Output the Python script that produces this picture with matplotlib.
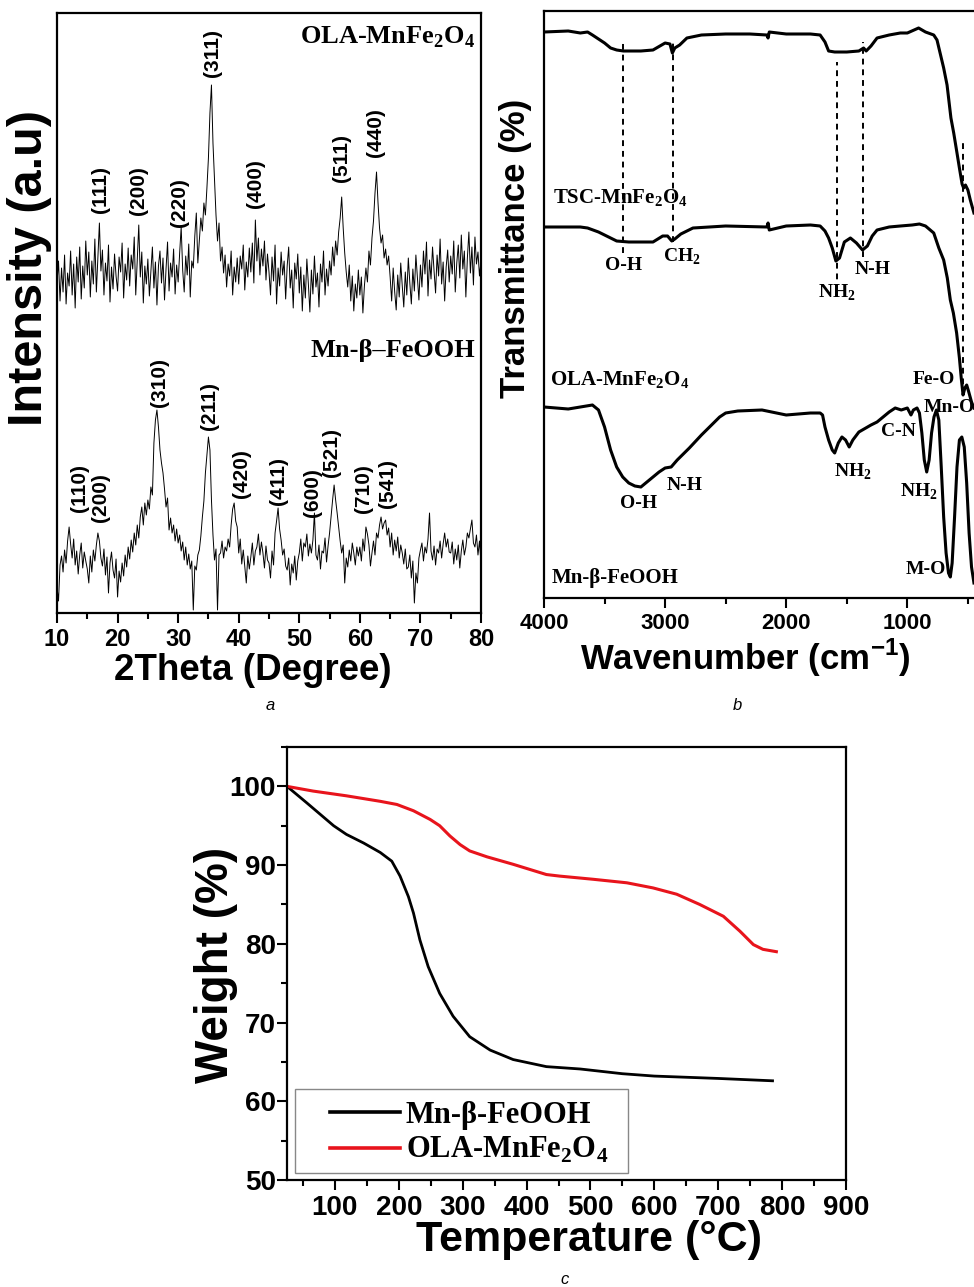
import numpy as np
import matplotlib
matplotlib.use("Agg")
import matplotlib.pyplot as plt
from matplotlib.ticker import MultipleLocator
from matplotlib.patches import Rectangle

plt.rcParams['font.family'] = ['Liberation Sans', 'DejaVu Sans']
plt.rcParams['mathtext.fontset'] = 'custom'
plt.rcParams['mathtext.rm'] = 'Liberation Serif:bold'
plt.rcParams['mathtext.bf'] = 'Liberation Serif:bold'
plt.rcParams['mathtext.sf'] = 'Liberation Sans:bold'

# ---------------- data ----------------
# XRD, 2theta 10..80 step 0.25 (a.u.)
xrd_ola = [
    330, 352, 312, 345, 321, 358, 309, 340, 327, 362, 318, 349, 305, 356, 331, 366, 314, 347, 325, 372,
    338, 361, 316, 352, 329, 374, 321, 355, 390, 342, 363, 318, 350, 332, 368, 311, 346, 324, 359, 337,
    322, 356, 341, 370, 315, 349, 333, 365, 327, 358, 344, 376, 318, 352, 388, 336, 361, 310, 347, 329,
    354, 317, 342, 366, 325, 351, 308, 347, 362, 330, 355, 313, 344, 371, 322, 350, 336, 364, 319, 348,
    331, 360, 386, 343, 321, 357, 338, 369, 316, 352, 345, 377, 400, 350, 372, 395, 382, 410, 398, 425,
    455, 500, 528, 470, 433, 398, 372, 390, 352, 366, 340, 358, 326, 349, 337, 362, 318, 346, 331, 355,
    329, 357, 344, 368, 323, 351, 336, 365, 341, 370, 330, 393, 352, 375, 338, 364, 347, 372, 333, 359,
    341, 318, 356, 332, 368, 309, 345, 327, 361, 338, 352, 314, 347, 366, 325, 343, 305, 350, 334, 359,
    320, 346, 302, 338, 315, 354, 329, 301, 343, 319, 357, 326, 340, 306, 349, 331, 362, 318, 344, 327,
    352, 338, 366, 347, 372, 358, 381, 395, 416, 385, 360, 341, 326, 348, 312, 337, 302, 329, 315, 343,
    318, 336, 300, 327, 345, 331, 362, 348, 375, 392, 420, 441, 410, 385, 370, 378, 355, 364, 348, 357,
    336, 312, 345, 321, 303, 338, 316, 350, 327, 306, 341, 318, 355, 330, 309, 344, 322, 358, 335, 313,
    348, 326, 362, 339, 371, 317, 353, 334, 366, 342, 320, 358, 337, 374, 329, 351, 312, 346, 363, 331,
    357, 339, 372, 321, 350, 368, 335, 378, 344, 362, 316, 355, 381, 340, 366, 328, 376, 349, 361, 337,
    352]
xrd_feooh = [
    26, 12, 48, 57, 41, 63, 50, 72, 86, 69, 55, 74, 48, 62, 39, 58, 70, 45, 61, 52,
    44, 30, 57, 41, 63, 52, 68, 80, 72, 55, 47, 64, 38, 56, 20, 50, 61, 43, 35, 54,
    16, 42, 31, 50, 37, 58, 46, 66, 54, 73, 61, 80, 68, 88, 75, 96, 106, 88, 110, 98,
    113, 104, 126, 118, 170, 193, 203, 186, 163, 150, 140, 124, 106, 115, 83, 95, 80, 88, 72, 84,
    70, 78, 62, 71, 53, 66, 48, 59, 44, 52, 3, 47, 43, 58, 63, 77, 96, 112, 140, 158,
    176, 163, 113, 78, 53, 64, 3, 58, 60, 72, 55, 66, 62, 74, 66, 88, 104, 110, 92, 86,
    60, 74, 49, 63, 46, 30, 57, 44, 56, 70, 48, 62, 66, 79, 58, 71, 60, 45, 67, 53,
    50, 35, 62, 48, 80, 92, 105, 84, 73, 58, 64, 47, 43, 55, 28, 49, 40, 57, 33, 52,
    60, 74, 52, 70, 66, 79, 57, 69, 60, 73, 100, 58, 53, 68, 44, 62, 60, 75, 51, 67,
    80, 97, 113, 128, 113, 100, 86, 72, 60, 68, 30, 55, 46, 63, 52, 70, 60, 48, 66, 57,
    66, 52, 74, 62, 86, 79, 68, 47, 60, 72, 58, 80, 75, 88, 96, 84, 90, 93, 78, 85,
    66, 80, 58, 73, 62, 76, 55, 68, 60, 49, 64, 44, 46, 58, 35, 52, 10, 40, 30, 55,
    63, 70, 52, 66, 60, 74, 100, 62, 53, 67, 48, 64, 60, 72, 55, 69, 80, 66, 74, 61,
    60, 71, 49, 64, 53, 68, 45, 62, 73, 58, 66, 80, 75, 84, 93, 70, 66, 78, 58, 72,
    50]
hkl_ola = ['(111)', '(200)', '(220)', '(311)', '(400)', '(511)', '(440)']
hkl_ola_pos = [17.1, 23.4, 30.3, 35.6, 42.7, 57.0, 62.6]
hkl_ola_y = [400, 398, 386, 536, 405, 431, 456]
hkl_feooh = ['(110)', '(200)', '(310)', '(211)', '(420)', '(411)', '(600)', '(521)', '(710)', '(541)']
hkl_feooh_pos = [13.7, 17.1, 27.0, 35.1, 40.5, 46.5, 52.1, 55.4, 60.6, 64.5]
hkl_feooh_y = [101, 91, 206, 183, 115, 108, 96, 136, 100, 105]

# FTIR (offset transmittance, a.u.)
tsc_wn = [4000, 3800, 3700, 3640, 3600, 3500, 3450, 3400, 3344, 3200, 3100, 3000, 2960, 2940,
          2920, 2880, 2820, 2700, 2500, 2300, 2160, 2150, 2140, 2000, 1800, 1720, 1680, 1650,
          1600, 1500, 1400, 1361, 1340, 1300, 1250, 1150, 1058, 1000, 907, 850, 782, 755, 700,
          672, 640, 617, 590, 570, 548, 535, 520, 500, 480, 450]
tsc_t = [566, 567, 565, 566, 563, 555, 550, 548, 547, 547, 548, 555, 554, 545,
         550, 553, 560, 563, 564, 564, 563, 560, 566, 564, 564, 563, 556, 547,
         546, 546, 547, 550, 547, 552, 560, 563, 565, 565, 570, 566, 563, 558, 530,
         513, 480, 465, 445, 430, 414, 410, 413, 408, 398, 385]
ola_wn = [4000, 3700, 3640, 3550, 3450, 3400, 3300, 3100, 3020, 2980, 2945, 2920, 2870, 2770,
          2500, 2160, 2150, 2140, 2000, 1800, 1720, 1680, 1650, 1620, 1590, 1560, 1520, 1470,
          1420, 1370, 1330, 1290, 1250, 1150, 1058, 960, 900, 850, 782, 740, 700, 670, 645,
          620, 593, 570, 555, 540, 525, 510, 495, 470, 450]
ola_t = [371, 371, 370, 366, 360, 357, 356, 356, 362, 362, 357, 359, 364, 370,
         372, 371, 375, 368, 372, 373, 372, 367, 360, 350, 337, 340, 356, 360,
         355, 348, 352, 362, 368, 371, 372, 373, 374, 372, 365, 350, 338, 320, 298,
         285, 265, 240, 220, 203, 210, 213, 207, 196, 190]
feooh_wn = [4000, 3800, 3700, 3600, 3550, 3500, 3450, 3400, 3350, 3300, 3250, 3200, 3150, 3100,
            3050, 3000, 2950, 2900, 2800, 2700, 2600, 2550, 2500, 2450, 2400, 2200, 2000, 1800,
            1720, 1700, 1680, 1650, 1620, 1600, 1570, 1540, 1510, 1480, 1450, 1400, 1300, 1250,
            1200, 1150, 1100, 1050, 1000, 970, 950, 920, 900, 880, 860, 840, 820, 800, 780, 760,
            740, 720, 700, 680, 660, 645, 630, 610, 590, 570, 550, 530, 510, 490, 470, 450]
feooh_t = [191, 189, 191, 193, 188, 171, 148, 131, 121, 115, 112, 111, 116, 121,
           126, 130, 131, 138, 150, 163, 175, 181, 185, 186, 187, 188, 183, 185,
           185, 183, 171, 158, 148, 145, 155, 161, 158, 151, 158, 166, 173, 176,
           181, 186, 190, 188, 190, 183, 188, 190, 185, 165, 138, 126, 138, 165, 181, 188,
           178, 131, 81, 45, 25, 21, 35, 81, 131, 158, 161, 151, 115, 65, 31, 15]
# dashed guide lines: wavenumber, y from, y to
guide_wn = [3344, 2931, 1579, 1364, 540]
guide_lo = [345, 356, 308, 341, 203]
guide_hi = [558, 558, 536, 556, 456]

# TGA
tga_temp_k = [25, 56, 98, 118, 145, 171, 189, 202, 215, 223, 233, 246, 264, 285, 311, 343,
              379, 431, 484, 550, 600, 700, 785]
tga_w_k = [100, 97.9, 95.0, 93.9, 92.8, 91.6, 90.5, 88.6, 86.0, 83.9, 80.5, 77.1, 73.7, 70.8,
           68.2, 66.5, 65.3, 64.4, 64.1, 63.5, 63.2, 62.9, 62.6]
tga_temp_r = [25, 66, 118, 171, 197, 223, 249, 264, 280, 296, 311, 338, 379, 431, 452, 504,
              557, 598, 635, 671, 708, 734, 755, 770, 791]
tga_w_r = [100, 99.4, 98.8, 98.1, 97.7, 96.9, 95.8, 95.0, 93.7, 92.6, 91.8, 91.05, 90.1, 88.8,
           88.6, 88.2, 87.75, 87.1, 86.3, 85.0, 83.5, 81.6, 79.9, 79.3, 79.0]

# ---------------- figure ----------------
W, H = 974, 1287
fig = plt.figure(figsize=(W / 100, H / 100), dpi=100)


def box(l, t, r, b):
    return [l / W, 1 - b / H, (r - l) / W, (b - t) / H]


def fxy(x, y):
    return x / W, 1 - y / H


serif = 'Liberation Serif'

# ---- panel a: XRD ----
ax1 = fig.add_axes(box(57, 13, 481, 613))
tt = np.linspace(10, 80, len(xrd_ola))
ax1.plot(tt, xrd_ola, color='black', lw=0.7)
tt2 = np.linspace(10, 80, len(xrd_feooh))
ax1.plot(tt2, xrd_feooh, color='black', lw=0.7)
ax1.set_xlim(10, 80)
ax1.set_ylim(0, 600)
ax1.set_yticks([])
ax1.xaxis.set_major_locator(MultipleLocator(10))
ax1.xaxis.set_minor_locator(MultipleLocator(5))
ax1.tick_params(axis='x', which='major', direction='out', length=7, width=1.5, pad=4, labelsize=17)
ax1.tick_params(axis='x', which='minor', direction='out', length=4, width=1.5)
for lab in ax1.get_xticklabels():
    lab.set_fontweight('bold')
for s in ax1.spines.values():
    s.set_linewidth(1.6)
for lab, x, y in zip(hkl_ola, hkl_ola_pos, hkl_ola_y):
    ax1.text(x, y, lab, rotation=90, ha='center', va='bottom', fontsize=15, fontweight='bold')
for lab, x, y in zip(hkl_feooh, hkl_feooh_pos, hkl_feooh_y):
    ax1.text(x, y, lab, rotation=90, ha='center', va='bottom', fontsize=15, fontweight='bold')
ax1.text(79, 576, r'OLA-MnFe$_\mathrm{2}$O$_\mathrm{4}$',
         ha='right', va='center', family=serif, fontweight='bold', fontsize=19)
ax1.text(79, 263, 'Mn-β–FeOOH',
         ha='right', va='center', family=serif, fontweight='bold', fontsize=19)
fig.text(*fxy(253, 670), '2Theta (Degree)', ha='center', va='center', fontsize=26.5, fontweight='bold')
fig.text(*fxy(30, 268), 'Intensity (a.u)', ha='center', va='center', rotation=90, fontsize=35, fontweight='bold')
fig.text(*fxy(270, 706), 'a', ha='center', va='center', fontsize=12, style='italic')

# ---- panel b: FTIR ----
ax2 = fig.add_axes(box(544, 11, 980, 598))
ax2.plot(tsc_wn, tsc_t, color='black', lw=2.2)
ax2.plot(ola_wn, ola_t, color='black', lw=2.2)
ax2.plot(feooh_wn, feooh_t, color='black', lw=2.2)
ax2.vlines(guide_wn, guide_lo, guide_hi, colors='black', linestyles=(0, (3, 2.5)), lw=1.4)
ax2.set_xlim(4000, 400)
ax2.set_ylim(0, 587)
ax2.set_yticks([])
ax2.xaxis.set_major_locator(MultipleLocator(1000))
ax2.xaxis.set_minor_locator(MultipleLocator(500))
ax2.tick_params(axis='x', which='major', direction='out', length=7, width=1.5, pad=4, labelsize=16)
ax2.tick_params(axis='x', which='minor', direction='out', length=4, width=1.5)
for lab in ax2.get_xticklabels():
    lab.set_fontweight('bold')
for s in ax2.spines.values():
    s.set_linewidth(1.6)
ftir_labels = [
    (3926, 400, r'TSC-MnFe$_\mathrm{2}$O$_\mathrm{4}$', 'left', 15),
    (3347, 332, 'O-H', 'center', 14),
    (2860, 341, r'CH$_\mathrm{2}$', 'center', 14),
    (1579, 305, r'NH$_\mathrm{2}$', 'center', 14),
    (1289, 328, 'N-H', 'center', 14),
    (3950, 218, r'OLA-MnFe$_\mathrm{2}$O$_\mathrm{4}$', 'left', 15),
    (785, 218, 'Fe-O', 'center', 14),
    (868, 190, 'Mn-O', 'left', 14),
    (1074, 166, 'C-N', 'center', 14),
    (1446, 126, r'NH$_\mathrm{2}$', 'center', 14),
    (901, 106, r'NH$_\mathrm{2}$', 'center', 14),
    (3223, 95, 'O-H', 'center', 14),
    (2835, 113, 'N-H', 'center', 14),
    (851, 28, 'M-O', 'center', 14),
    (3934, 20, 'Mn-β-FeOOH', 'left', 15),
]
for x, y, s, ha, fs in ftir_labels:
    ax2.text(x, y, s, ha=ha, va='center', family=serif, fontweight='bold', fontsize=fs)
fig.text(*fxy(745, 658), r'Wavenumber (cm$^{\mathsf{-1}}$)', ha='center', va='center', fontsize=25, fontweight='bold')
fig.text(*fxy(516, 248), 'Transmittance (%)', ha='center', va='center', rotation=90, fontsize=25, fontweight='bold')
fig.text(*fxy(737, 706), 'b', ha='center', va='center', fontsize=12, style='italic')

# ---- panel c: TGA ----
ax3 = fig.add_axes(box(287, 747, 846, 1180))
ax3.plot(tga_temp_k, tga_w_k, color='black', lw=2, label='Mn-β-FeOOH')
ax3.plot(tga_temp_r, tga_w_r, color='#e8141c', lw=2.2, label=r'OLA-MnFe$_\mathrm{2}$O$_\mathrm{4}$')
ax3.set_xlim(25, 900)
ax3.set_ylim(50, 105)
ax3.xaxis.set_minor_locator(MultipleLocator(50))
ax3.yaxis.set_major_locator(MultipleLocator(10))
ax3.yaxis.set_minor_locator(MultipleLocator(5))
ax3.set_xticks([100, 200, 300, 400, 500, 600, 700, 800, 900])
ax3.tick_params(axis='both', which='major', direction='out', length=7, width=1.5, labelsize=20)
ax3.tick_params(axis='x', which='major', pad=4)
ax3.tick_params(axis='y', which='major', pad=1)
ax3.tick_params(axis='both', which='minor', direction='out', length=4, width=1.5)
for lab in ax3.get_xticklabels() + ax3.get_yticklabels():
    lab.set_fontweight('bold')
for s in ax3.spines.values():
    s.set_linewidth(1.6)
ax3.add_patch(Rectangle((0.0143, 0.016), 0.596, 0.194, transform=ax3.transAxes,
                        facecolor='white', edgecolor='#888888', lw=1.0, zorder=3))
leg = ax3.legend(loc='upper left', bbox_to_anchor=(0.077, 0.183), frameon=False,
                 borderaxespad=0, borderpad=0,
                 prop={'family': serif, 'weight': 'bold', 'size': 22},
                 handlelength=2.3, handletextpad=0.17, labelspacing=0.18)
leg.set_zorder(4)
for ln in leg.get_lines():
    ln.set_linewidth(2.6)
fig.text(*fxy(589, 1240), 'Temperature (°C)', ha='center', va='center', fontsize=31, fontweight='bold')
fig.text(*fxy(216, 965), 'Weight (%)', ha='center', va='center', rotation=90, fontsize=33, fontweight='bold')
fig.text(*fxy(565, 1280), 'c', ha='center', va='center', fontsize=12, style='italic')

fig.savefig('out.png', dpi=100)
